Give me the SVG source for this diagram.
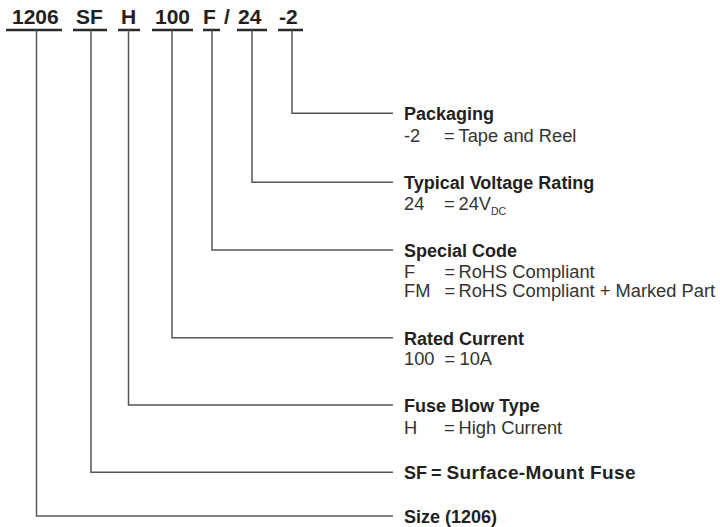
<svg xmlns="http://www.w3.org/2000/svg" width="720" height="527" viewBox="0 0 720 527">
<style>
  .code{font-family:"Liberation Sans",Arial,sans-serif;font-weight:bold;font-size:21px;fill:#231f20}
  .t{font-family:"Liberation Sans",Arial,sans-serif;font-weight:bold;font-size:18px;fill:#231f20}
  .v{font-family:"Liberation Sans",Arial,sans-serif;font-size:18.3px;fill:#333333}
  .sub{font-size:10.5px}
  .ul{stroke:#2b2b2b;stroke-width:2.5;fill:none}
  .ln{stroke:#555555;stroke-width:1.5;fill:none}
</style>
<rect width="720" height="527" fill="#ffffff"/>
<g id="code">
  <text class="code" x="12" y="24">1206</text>
  <text class="code" x="76" y="24">SF</text>
  <text class="code" x="121" y="24">H</text>
  <text class="code" x="155" y="24">100</text>
  <text class="code" x="203" y="24">F</text>
  <text class="code" x="224" y="24">/</text>
  <text class="code" x="238" y="24">24</text>
  <text class="code" x="279" y="24">-2</text>
  <path class="ul" d="M6 30H62M73 30H107M118 30H140M152 30H193M203 30H220M237 30H267M278 30H303"/>
</g>
<g id="connectors">
  <path class="ln" d="M292 30V113.3H393"/>
  <path class="ln" d="M252 30V182.3H393"/>
  <path class="ln" d="M212 30V250H393"/>
  <path class="ln" d="M172 30V337.7H393"/>
  <path class="ln" d="M128.5 30V405H393"/>
  <path class="ln" d="M91 30V472.3H393"/>
  <path class="ln" d="M36.5 30V516H393"/>
</g>
<g id="packaging">
  <text class="t" x="404" y="120.3">Packaging</text>
  <text class="v" x="404" y="141.5">-2</text>
  <text class="v" x="444" y="141.5">=</text>
  <text class="v" x="458.5" y="141.5">Tape and Reel</text>
</g>
<g id="voltage">
  <text class="t" x="404" y="189.3">Typical Voltage Rating</text>
  <text class="v" x="404" y="209.5">24</text>
  <text class="v" x="444" y="209.5">=</text>
  <text class="v" x="458.5" y="209.5">24V<tspan class="sub" dy="5">DC</tspan></text>
</g>
<g id="special">
  <text class="t" x="404" y="257">Special Code</text>
  <text class="v" x="404" y="277.5">F</text>
  <text class="v" x="444.5" y="277.5">=</text>
  <text class="v" x="458.5" y="277.5">RoHS Compliant</text>
  <text class="v" x="404" y="297">FM</text>
  <text class="v" x="444.5" y="297">=</text>
  <text class="v" x="458.5" y="297">RoHS Compliant + Marked Part</text>
</g>
<g id="current">
  <text class="t" x="404" y="344.7">Rated Current</text>
  <text class="v" x="404" y="364.5">100</text>
  <text class="v" x="444.5" y="364.5">=</text>
  <text class="v" x="459.5" y="364.5">10A</text>
</g>
<g id="blowtype">
  <text class="t" x="404" y="412">Fuse Blow Type</text>
  <text class="v" x="404" y="433.5">H</text>
  <text class="v" x="444" y="433.5">=</text>
  <text class="v" x="458.5" y="433.5">High Current</text>
</g>
<g id="sf">
  <text class="t" x="404" y="479.3">SF</text>
  <text class="t" x="431" y="479.3">=</text>
  <text class="t" x="446.5" y="479.3" style="font-size:19px" textLength="189">Surface-Mount Fuse</text>
</g>
<g id="size">
  <text class="t" x="404" y="523">Size (1206)</text>
</g>
</svg>
